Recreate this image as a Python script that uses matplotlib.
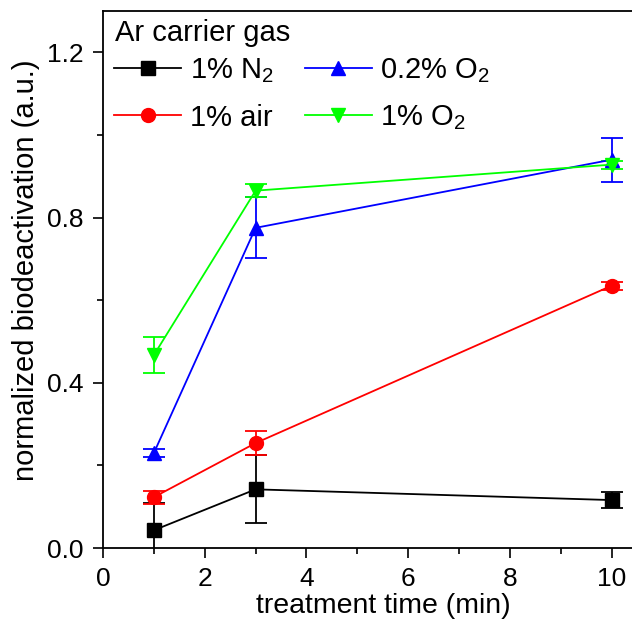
import matplotlib
matplotlib.use("Agg")
import matplotlib.pyplot as plt
from matplotlib.lines import Line2D
from matplotlib.ticker import MultipleLocator, FormatStrFormatter

plt.rcParams['font.family'] = ['Liberation Sans', 'DejaVu Sans']
plt.rcParams['mathtext.fontset'] = 'custom'
plt.rcParams['mathtext.rm'] = 'Liberation Sans'

# treatment times (min)
time = [1, 3, 10]

# normalized biodeactivation and standard errors per gas admixture
n2 = [0.043, 0.142, 0.116]
n2_err = [0.065, 0.082, 0.02]
air = [0.123, 0.254, 0.635]
air_err = [0.016, 0.03, 0.01]
o2_02 = [0.23, 0.775, 0.94]
o2_02_err = [0.01, 0.074, 0.053]
o2_1 = [0.467, 0.865, 0.928]
o2_1_err = [0.043, 0.015, 0.01]

series = [
    ("1% N$_2$", n2, n2_err, "black", "s"),
    ("1% air", air, air_err, "#ff0000", "o"),
    ("0.2% O$_2$", o2_02, o2_02_err, "#0000ff", "^"),
    ("1% O$_2$", o2_1, o2_1_err, "#00ff00", "v"),
]

fig = plt.figure(figsize=(6.32, 6.19), dpi=100)
ax = fig.add_axes([0.163, 0.1147, 0.837, 0.8676])

handles = []
for label, y, err, color, marker in series:
    ax.errorbar(time, y, yerr=err, color=color, marker=marker,
                markersize=10, linewidth=1.3, elinewidth=1.3,
                capsize=8, capthick=1.3)
    handles.append(Line2D([], [], color=color, marker=marker,
                          markersize=10, linewidth=1.3, label=label))

ax.set_xlim(0, 10.4)
ax.set_ylim(0, 1.3)
ax.xaxis.set_major_locator(MultipleLocator(2))
ax.xaxis.set_minor_locator(MultipleLocator(1))
ax.yaxis.set_major_locator(MultipleLocator(0.4))
ax.yaxis.set_minor_locator(MultipleLocator(0.2))
ax.yaxis.set_major_formatter(FormatStrFormatter('%.1f'))
ax.tick_params(which='both', direction='out', labelsize=19, width=1.2)
ax.tick_params(which='major', length=7.2)
ax.tick_params(which='minor', length=4)
ax.tick_params(axis='x', which='major', pad=6.5)
ax.tick_params(axis='y', which='major', pad=7)
ax.spines['right'].set_visible(False)
for s in ['left', 'bottom', 'top']:
    ax.spines[s].set_linewidth(1.3)

ax.set_xlabel("treatment time (min)", fontsize=20.5)
ax.xaxis.set_label_coords(0.53, -0.0847)
ax.set_ylabel("normalized biodeactivation (a.u.)", fontsize=21)
ax.yaxis.set_label_coords(-0.119, 0.518)

# legend heading and two-column entries
ax.text(0.0227, 0.959, "Ar carrier gas", transform=ax.transAxes,
        fontsize=21, ha='left', va='center')
leg = ax.legend(handles=handles, ncol=2, loc='upper left', frameon=False,
                bbox_to_anchor=(0.0208, 0.9157), fontsize=21,
                handlelength=2.3, handletextpad=0.3,
                columnspacing=1.06, labelspacing=0.64,
                borderaxespad=0.0, borderpad=0.0)

fig.savefig("out.png", dpi=100)
